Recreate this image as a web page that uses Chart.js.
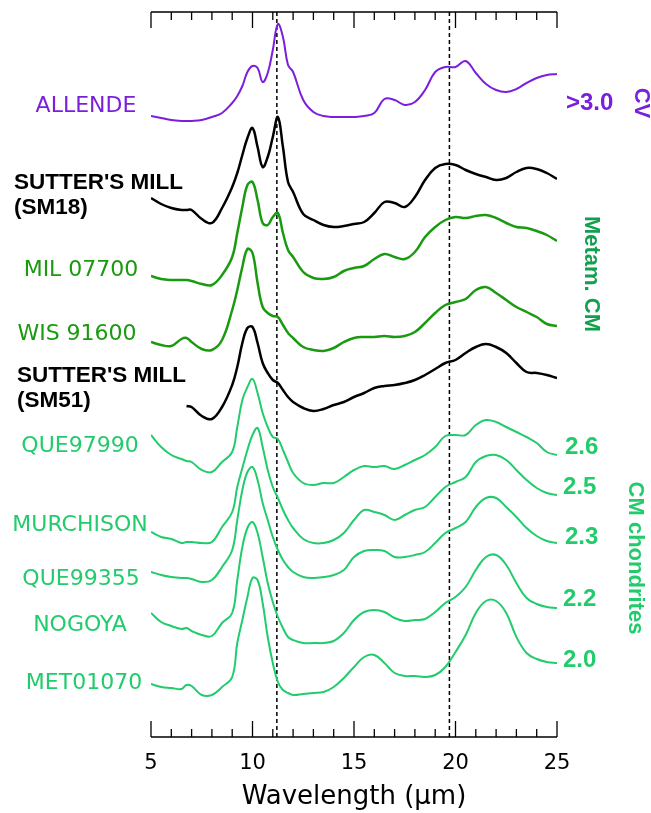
<!DOCTYPE html>
<html>
<head>
<meta charset="utf-8">
<title>Emissivity spectra</title>
<script src="https://cdn.jsdelivr.net/npm/chart.js@4.4.0/dist/chart.umd.min.js"></script>
<style>
  html, body { margin: 0; padding: 0; background: #fff; }
</style>
</head>
<body>
<canvas id="myChart" width="651" height="813"></canvas>
<script>
// wavelength grid (micron) shared by every spectrum
const wavelengths = [5, 5.5, 6, 6.5, 6.75, 7, 7.5, 8, 8.5, 9, 9.25, 9.5, 9.75, 10, 10.25, 10.5, 10.75, 11, 11.25, 11.5, 11.75, 12,
  12.5, 13, 13.5, 14, 14.5, 15, 15.5, 16, 16.5, 17, 17.5, 18, 18.5, 19, 19.5, 20, 20.5, 21, 21.5, 22, 22.5, 23, 23.5, 24, 24.5, 25];

// spectra with their vertical offsets already added (arbitrary units)
const allende = [6.21, 6.19, 6.17, 6.16, 6.16, 6.16, 6.17, 6.20, 6.24, 6.34, 6.41, 6.51, 6.65, 6.71, 6.69, 6.55, 6.64, 6.87, 7.13, 7.00, 6.72, 6.65,
  6.37, 6.25, 6.21, 6.20, 6.20, 6.20, 6.21, 6.24, 6.38, 6.37, 6.32, 6.35, 6.47, 6.65, 6.70, 6.70, 6.76, 6.64, 6.53, 6.47, 6.45, 6.48, 6.54, 6.59, 6.62, 6.63];
const sm18 = [5.39, 5.33, 5.29, 5.27, 5.27, 5.27, 5.18, 5.14, 5.29, 5.50, 5.64, 5.82, 5.99, 6.09, 5.90, 5.70, 5.80, 6.00, 6.20, 5.90, 5.55, 5.45,
  5.23, 5.17, 5.12, 5.10, 5.11, 5.13, 5.15, 5.24, 5.35, 5.34, 5.30, 5.40, 5.57, 5.69, 5.73, 5.72, 5.67, 5.63, 5.60, 5.57, 5.59, 5.65, 5.69, 5.68, 5.64, 5.58];
const mil07700 = [4.61, 4.58, 4.57, 4.57, 4.57, 4.56, 4.53, 4.52, 4.62, 4.80, 5.04, 5.30, 5.52, 5.55, 5.37, 5.14, 5.12, 5.20, 5.24, 5.04, 4.87, 4.80,
  4.65, 4.59, 4.58, 4.60, 4.66, 4.69, 4.71, 4.78, 4.83, 4.80, 4.78, 4.85, 5.00, 5.10, 5.17, 5.20, 5.19, 5.21, 5.22, 5.19, 5.14, 5.10, 5.09, 5.06, 5.02, 4.96];
const wis91600 = [3.95, 3.92, 3.91, 3.98, 3.99, 3.95, 3.88, 3.87, 3.97, 4.27, 4.47, 4.70, 4.88, 4.84, 4.54, 4.30, 4.24, 4.21, 4.20, 4.12, 4.04, 3.99,
  3.90, 3.87, 3.86, 3.89, 3.95, 3.99, 4.00, 4.00, 4.01, 4.00, 4.01, 4.05, 4.14, 4.24, 4.32, 4.35, 4.38, 4.47, 4.50, 4.44, 4.37, 4.30, 4.25, 4.20, 4.13, 4.11];
const sm51 = [null, null, null, null, 3.31, 3.30, 3.21, 3.18, 3.30, 3.52, 3.70, 3.94, 4.09, 4.10, 3.94, 3.74, 3.64, 3.57, 3.54, 3.47, 3.40, 3.35,
  3.29, 3.26, 3.28, 3.32, 3.35, 3.40, 3.44, 3.49, 3.51, 3.52, 3.54, 3.57, 3.62, 3.68, 3.74, 3.77, 3.84, 3.90, 3.93, 3.90, 3.84, 3.74, 3.65, 3.64, 3.62, 3.59];
const que97990 = [3.02, 2.90, 2.82, 2.78, 2.76, 2.75, 2.67, 2.65, 2.75, 2.85, 3.10, 3.37, 3.50, 3.58, 3.44, 3.24, 3.10, 3.00, 2.98, 2.87, 2.75, 2.64,
  2.54, 2.52, 2.54, 2.54, 2.60, 2.67, 2.71, 2.70, 2.71, 2.68, 2.72, 2.77, 2.82, 2.90, 3.01, 3.02, 3.02, 3.12, 3.17, 3.15, 3.10, 3.05, 3.00, 2.94, 2.85, 2.82];
const murchison = [2.05, 2.00, 1.98, 1.94, 1.95, 1.95, 1.94, 1.95, 2.10, 2.25, 2.50, 2.69, 2.87, 3.02, 3.09, 2.90, 2.67, 2.50, 2.39, 2.27, 2.17, 2.09,
  1.98, 1.94, 1.94, 1.97, 2.04, 2.17, 2.27, 2.25, 2.22, 2.17, 2.22, 2.27, 2.30, 2.40, 2.50, 2.55, 2.60, 2.75, 2.81, 2.82, 2.77, 2.67, 2.57, 2.49, 2.44, 2.42];
const que99355 = [1.65, 1.62, 1.60, 1.59, 1.59, 1.58, 1.55, 1.57, 1.70, 1.87, 2.17, 2.47, 2.65, 2.70, 2.57, 2.34, 2.17, 2.00, 1.87, 1.77, 1.70, 1.65,
  1.60, 1.59, 1.60, 1.62, 1.67, 1.80, 1.86, 1.87, 1.86, 1.80, 1.80, 1.82, 1.85, 1.94, 2.04, 2.09, 2.15, 2.30, 2.39, 2.39, 2.30, 2.20, 2.09, 2.01, 1.96, 1.94];
const nogoya = [1.24, 1.15, 1.11, 1.08, 1.09, 1.06, 1.02, 1.01, 1.14, 1.24, 1.57, 1.90, 2.09, 2.15, 2.04, 1.80, 1.54, 1.35, 1.20, 1.09, 1.00, 0.97,
  0.94, 0.94, 0.94, 0.96, 1.04, 1.17, 1.25, 1.27, 1.25, 1.19, 1.16, 1.17, 1.18, 1.25, 1.34, 1.40, 1.50, 1.67, 1.80, 1.82, 1.72, 1.54, 1.39, 1.33, 1.30, 1.29];
const met01070 = [0.53, 0.50, 0.49, 0.48, 0.52, 0.51, 0.42, 0.42, 0.50, 0.60, 0.94, 1.17, 1.40, 1.59, 1.57, 1.34, 1.00, 0.74, 0.55, 0.47, 0.44, 0.42,
  0.43, 0.44, 0.45, 0.50, 0.59, 0.70, 0.80, 0.82, 0.74, 0.64, 0.61, 0.61, 0.60, 0.62, 0.70, 0.85, 1.02, 1.24, 1.36, 1.36, 1.24, 1.00, 0.84, 0.78, 0.75, 0.74];

// dashed reference wavelengths and axis labels
const markerLines = [11.2, 19.7];
const xTickLabels = [5, 10, 15, 20, 25];

const PURPLE = '#7a1fdc';
const DKGREEN = '#1a9a10';
const LTGREEN = '#22cc6c';

function pts(values) {
  return values.map((v, i) => ({ x: wavelengths[i], y: v }));
}

function spectrum(label, values, color, width) {
  return {
    label: label,
    data: pts(values),
    borderColor: color,
    borderWidth: width,
    borderJoinStyle: 'round',
    pointRadius: 0,
    fill: false,
    tension: 0.4
  };
}

// text placed beside the curves
const leftLabels = [
  { lines: ['ALLENDE'], color: PURPLE, x: 86, y: 106, bold: false },
  { lines: ["SUTTER'S MILL", '(SM18)'], color: '#000', x: 14, y: 183, bold: true },
  { lines: ['MIL 07700'], color: DKGREEN, x: 81, y: 270, bold: false },
  { lines: ['WIS 91600'], color: DKGREEN, x: 77, y: 334, bold: false },
  { lines: ["SUTTER'S MILL", '(SM51)'], color: '#000', x: 17, y: 376, bold: true },
  { lines: ['QUE97990'], color: LTGREEN, x: 80, y: 446, bold: false },
  { lines: ['MURCHISON'], color: LTGREEN, x: 80, y: 525, bold: false },
  { lines: ['QUE99355'], color: LTGREEN, x: 81, y: 579, bold: false },
  { lines: ['NOGOYA'], color: LTGREEN, x: 80, y: 625, bold: false },
  { lines: ['MET01070'], color: LTGREEN, x: 84, y: 683, bold: false }
];
const rightLabels = [
  { text: '>3.0', color: PURPLE, x: 566, y: 103 },
  { text: '2.6', color: LTGREEN, x: 565, y: 447 },
  { text: '2.5', color: LTGREEN, x: 563, y: 487 },
  { text: '2.3', color: LTGREEN, x: 565, y: 537 },
  { text: '2.2', color: LTGREEN, x: 563, y: 599 },
  { text: '2.0', color: LTGREEN, x: 563, y: 660 }
];
const groupLabels = [
  { text: 'CV', color: PURPLE, x: 641, y: 103 },
  { text: 'Metam. CM', color: '#12a04e', x: 591, y: 274 },
  { text: 'CM chondrites', color: LTGREEN, x: 635, y: 558 }
];

const framePlugin = {
  id: 'frame',
  afterDraw(chart) {
    const ctx = chart.ctx;
    const xs = chart.scales.x;
    const a = chart.chartArea;
    ctx.save();
    ctx.strokeStyle = '#000';
    ctx.lineWidth = 1.3;
    ctx.beginPath();
    ctx.moveTo(a.left, a.top); ctx.lineTo(a.right, a.top);
    ctx.moveTo(a.left, a.bottom); ctx.lineTo(a.right, a.bottom);
    for (let w = 5; w <= 25; w++) {
      const px = xs.getPixelForValue(w);
      const len = w % 5 === 0 ? 16 : 8;
      ctx.moveTo(px, a.top); ctx.lineTo(px, a.top + len);
      ctx.moveTo(px, a.bottom); ctx.lineTo(px, a.bottom - len);
    }
    ctx.stroke();

    ctx.textBaseline = 'middle';
    leftLabels.forEach(l => {
      ctx.fillStyle = l.color;
      if (l.bold) {
        ctx.font = 'bold 22.5px "Liberation Sans"';
        ctx.textAlign = 'left';
      } else {
        ctx.font = '22px "DejaVu Sans"';
        ctx.textAlign = 'center';
      }
      l.lines.forEach((t, i) => ctx.fillText(t, l.x, l.y + i * 25));
    });

    ctx.font = 'bold 24px "Liberation Sans"';
    ctx.textAlign = 'left';
    rightLabels.forEach(l => {
      ctx.fillStyle = l.color;
      ctx.fillText(l.text, l.x, l.y);
    });

    ctx.font = 'bold 22px "Liberation Sans"';
    ctx.textAlign = 'center';
    groupLabels.forEach(l => {
      ctx.save();
      ctx.translate(l.x, l.y);
      ctx.rotate(Math.PI / 2);
      ctx.fillStyle = l.color;
      ctx.fillText(l.text, 0, 0);
      ctx.restore();
    });
    ctx.restore();
  }
};

function initChart() {
  const ctx = document.getElementById('myChart').getContext('2d');
  const datasets = [
    spectrum('ALLENDE', allende, PURPLE, 2),
    spectrum('SM18', sm18, '#000', 2.5),
    spectrum('MIL 07700', mil07700, DKGREEN, 2.5),
    spectrum('WIS 91600', wis91600, DKGREEN, 2.5),
    spectrum('SM51', sm51, '#000', 2.5),
    spectrum('QUE97990', que97990, LTGREEN, 2),
    spectrum('MURCHISON', murchison, LTGREEN, 2),
    spectrum('QUE99355', que99355, LTGREEN, 2),
    spectrum('NOGOYA', nogoya, LTGREEN, 2),
    spectrum('MET01070', met01070, LTGREEN, 2)
  ];
  markerLines.forEach(w => {
    datasets.push({
      label: 'marker ' + w,
      data: [{ x: w, y: 0 }, { x: w, y: 7.25 }],
      borderColor: '#000',
      borderWidth: 1.5,
      borderDash: [4, 3],
      pointRadius: 0,
      fill: false
    });
  });

  new Chart(ctx, {
    type: 'line',
    data: { datasets: datasets },
    options: {
      responsive: false,
      animation: false,
      devicePixelRatio: 1,
      layout: { padding: { left: 151, right: 94, top: 12, bottom: 0 } },
      plugins: {
        legend: { display: false },
        tooltip: { enabled: false }
      },
      scales: {
        x: {
          type: 'linear',
          min: 5,
          max: 25,
          afterBuildTicks: s => { s.ticks = xTickLabels.map(v => ({ value: v })); },
          afterFit: s => { s.height = 76; },
          grid: { display: false, drawTicks: false },
          border: { display: false },
          ticks: {
            color: '#000',
            padding: 14,
            maxRotation: 0,
            autoSkip: false,
            font: { family: 'DejaVu Sans', size: 21 }
          },
          title: {
            display: true,
            text: 'Wavelength (µm)',
            color: '#000',
            padding: { top: 0, bottom: 0 },
            font: { family: 'DejaVu Sans', size: 26 }
          }
        },
        y: {
          display: false,
          min: 0,
          max: 7.25
        }
      }
    },
    plugins: [framePlugin]
  });
}

document.addEventListener('DOMContentLoaded', initChart);
</script>
</body>
</html>
